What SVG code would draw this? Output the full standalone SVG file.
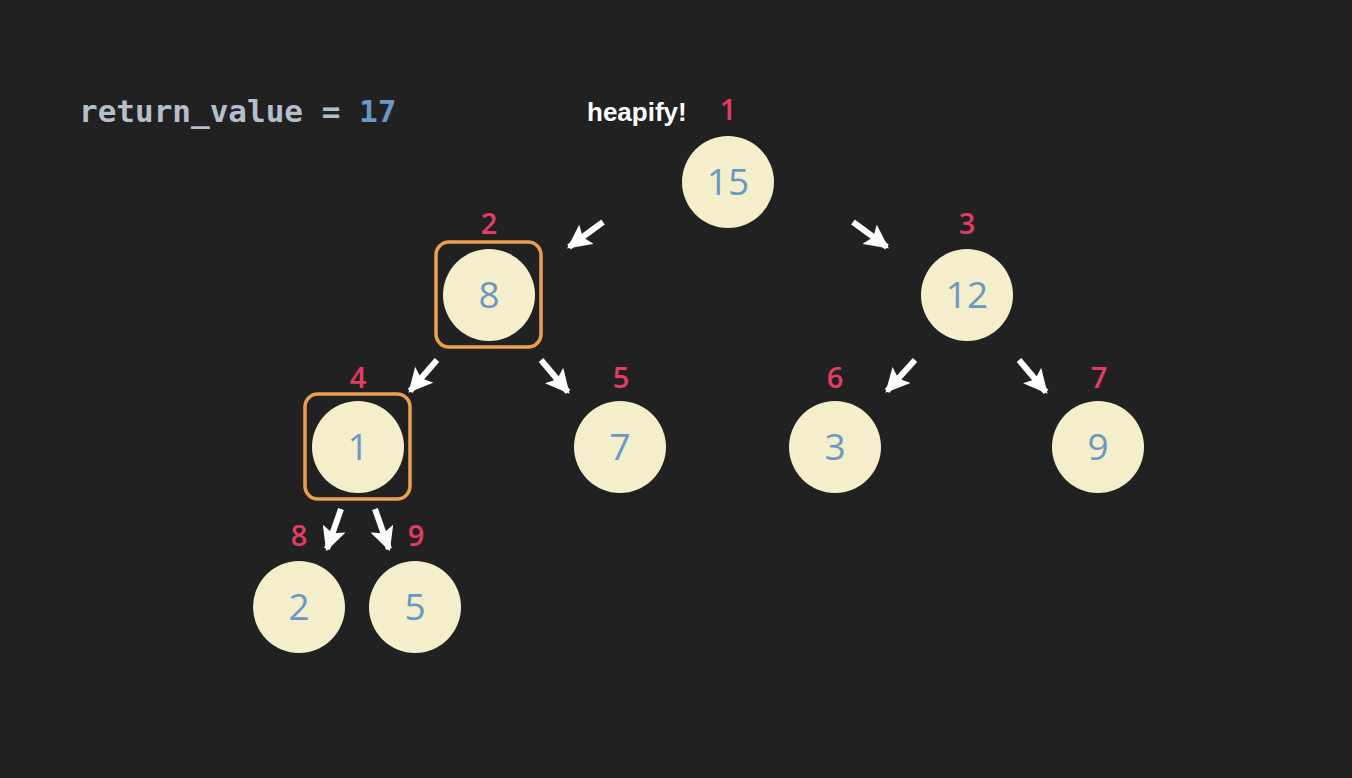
<svg xmlns="http://www.w3.org/2000/svg" width="1352" height="778" viewBox="0 0 1352 778">
<style>
.node circle{fill:#f4eecb}
.val{font-family:"Open Sans","Noto Sans",sans-serif;font-size:37px;fill:#6a98c2;text-anchor:middle}
.idx{font-family:"Open Sans","Noto Sans",sans-serif;font-size:29px;font-weight:600;fill:#e33d63;text-anchor:middle}
.box{fill:none;stroke:#eaa04f;stroke-width:3.5}
.arr{stroke:#ffffff;stroke-width:6;fill:none;marker-end:url(#ah)}
</style>
<defs>
<marker id="ah" viewBox="0 0 10 10" refX="9" refY="5" markerWidth="4" markerHeight="4" markerUnits="strokeWidth" orient="auto">
<path d="M0,0 L10,5 L0,10 L2,5 Z" fill="#ffffff"/>
</marker>
</defs>
<rect width="1352" height="778" fill="#212121"/>
<text x="79" y="122" font-family="DejaVu Sans Mono,monospace" font-weight="bold" font-size="31" fill="#b5bfcc">return_value = <tspan fill="#6a98c2">17</tspan></text>
<text x="587" y="121" font-family="Liberation Sans,Arial,sans-serif" font-weight="bold" font-size="26" fill="#ffffff">heapify!</text>
<g id="connectors">
<line class="arr" x1="603" y1="222" x2="569" y2="247"/>
<line class="arr" x1="853" y1="222" x2="887" y2="247"/>
<line class="arr" x1="437" y1="360" x2="410" y2="391"/>
<line class="arr" x1="541" y1="360" x2="568" y2="392"/>
<line class="arr" x1="915" y1="360" x2="887" y2="391"/>
<line class="arr" x1="1019" y1="360" x2="1046" y2="392"/>
<line class="arr" x1="341" y1="509" x2="327" y2="549"/>
<line class="arr" x1="375" y1="509" x2="389" y2="549"/>
</g>
<g id="n1" class="node"><text class="idx" x="728" y="120">1</text><circle cx="728" cy="182" r="46"/><text class="val" x="728" y="195">15</text></g>
<g id="n2" class="node"><text class="idx" x="489" y="234">2</text><rect class="box" x="436" y="242" width="105" height="105" rx="13"/><circle cx="489" cy="295" r="46"/><text class="val" x="489" y="308">8</text></g>
<g id="n3" class="node"><text class="idx" x="967" y="234">3</text><circle cx="967" cy="295" r="46"/><text class="val" x="967" y="308">12</text></g>
<g id="n4" class="node"><text class="idx" x="358" y="388">4</text><rect class="box" x="305" y="394" width="105" height="105" rx="13"/><circle cx="358" cy="447" r="46"/><text class="val" x="358" y="460">1</text></g>
<g id="n5" class="node"><text class="idx" x="621" y="388">5</text><circle cx="620" cy="447" r="46"/><text class="val" x="620" y="460">7</text></g>
<g id="n6" class="node"><text class="idx" x="835" y="388">6</text><circle cx="835" cy="447" r="46"/><text class="val" x="835" y="460">3</text></g>
<g id="n7" class="node"><text class="idx" x="1099" y="388">7</text><circle cx="1098" cy="447" r="46"/><text class="val" x="1098" y="460">9</text></g>
<g id="n8" class="node"><text class="idx" x="299" y="546">8</text><circle cx="299" cy="607" r="46"/><text class="val" x="299" y="620">2</text></g>
<g id="n9" class="node"><text class="idx" x="416" y="546">9</text><circle cx="415" cy="607" r="46"/><text class="val" x="415" y="620">5</text></g>
</svg>
